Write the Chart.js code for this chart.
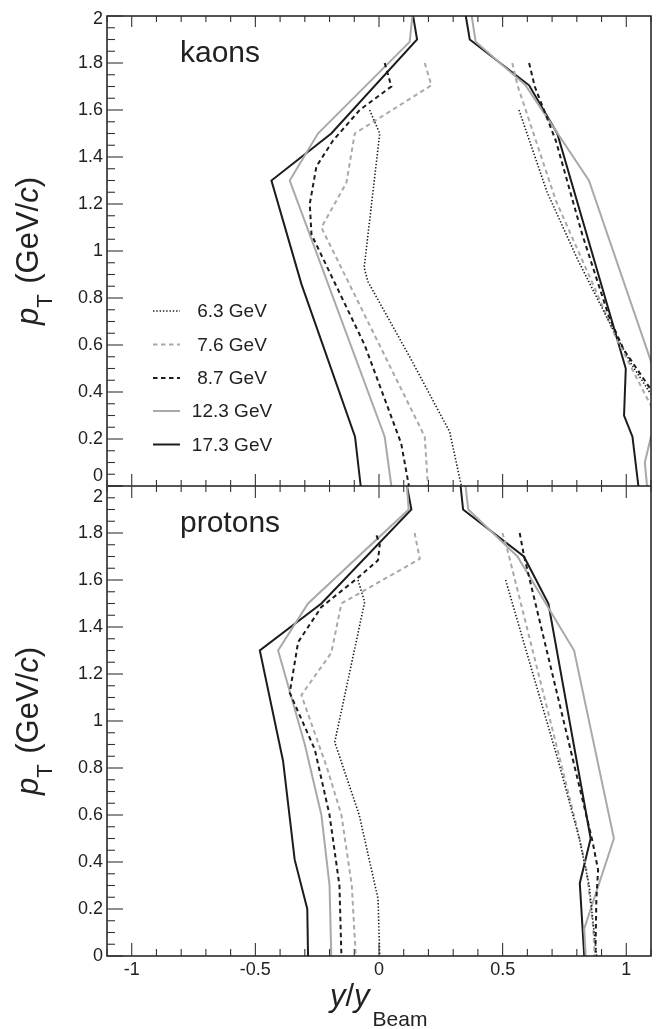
<!DOCTYPE html>
<html><head><meta charset="utf-8">
<script src="https://cdn.jsdelivr.net/npm/chart.js@4.4.0/dist/chart.umd.min.js"></script>
<style>html,body{margin:0;padding:0;background:#fff;}canvas{display:block;}</style>
</head><body>
<canvas id="c" width="656" height="1029"></canvas>
<script>
// ---------- labels ----------
const energies = ['6.3 GeV', '7.6 GeV', '8.7 GeV', '12.3 GeV', '17.3 GeV'];
const panelNames = ['kaons', 'protons'];
const xTickValues = [-1, -0.5, 0, 0.5, 1];
const xTickLabels = ['-1', '-0.5', '0', '0.5', '1'];
const yTickValues = [0, 0.2, 0.4, 0.6, 0.8, 1, 1.2, 1.4, 1.6, 1.8, 2];
const yTickLabels = ['0', '0.2', '0.4', '0.6', '0.8', '1', '1.2', '1.4', '1.6', '1.8', '2'];

// ---------- data: [y/yBeam, pT] ----------
// kaons
const kaons63L = [[-0.038,1.60],[0.003,1.50],[-0.06,0.93],[-0.045,0.87],[0.124,0.55],[0.286,0.23],[0.333,0]];
const kaons63R = [[0.566,1.60],[0.68,1.25],[0.805,0.96],[0.93,0.70],[1.02,0.52],[1.10,0.39],[1.18,0.25]];
const kaons76L = [[0.185,1.80],[0.212,1.705],[-0.098,1.50],[-0.132,1.29],[-0.233,1.10],[0.185,0.21],[0.198,0]];
const kaons76R = [[0.539,1.80],[0.560,1.705],[0.715,1.215],[0.876,0.833],[0.957,0.634],[1.099,0.343],[1.16,0.2]];
const kaons87L = [[0.023,1.80],[0.050,1.70],[-0.078,1.60],[-0.186,1.47],[-0.253,1.36],[-0.28,1.20],[-0.273,1.07],[-0.058,0.6],[0.09,0.18],[0.121,0]];
const kaons87R = [[0.607,1.80],[0.63,1.70],[0.715,1.47],[0.822,1.07],[0.93,0.72],[0.99,0.58],[1.10,0.41],[1.2,0.28]];
const kaons123L = [[0.135,2.0],[0.124,1.89],[-0.247,1.50],[-0.361,1.30],[0.023,0.21],[0.050,0]];
const kaons123R = [[0.375,2.0],[0.391,1.89],[0.593,1.705],[0.849,1.30],[1.11,0.50],[1.15,0.33],[1.10,0.21],[1.075,0.10],[1.084,0]];
const kaons173L = [[0.138,2.0],[0.154,1.90],[-0.193,1.50],[-0.435,1.30],[-0.314,0.86],[-0.097,0.21],[-0.074,0]];
const kaons173R = [[0.351,2.0],[0.367,1.90],[0.607,1.705],[0.721,1.50],[0.998,0.50],[0.991,0.30],[1.025,0.21],[1.049,0]];
// protons
const protons63L = [[-0.085,1.60],[-0.058,1.506],[-0.179,0.91],[-0.08,0.6],[-0.004,0.244],[0.003,0]];
const protons63R = [[0.512,1.60],[0.724,0.834],[0.81,0.5],[0.85,0.3],[0.88,0]];
const protons76L = [[0.144,1.80],[0.165,1.69],[-0.152,1.50],[-0.193,1.29],[-0.314,1.11],[-0.21,0.8],[-0.152,0.6],[-0.11,0.3],[-0.094,0]];
const protons76R = [[0.499,1.80],[0.519,1.73],[0.80,0.55],[0.839,0.366],[0.866,0.125],[0.872,0]];
const protons87L = [[-0.01,1.79],[0.003,1.75],[-0.004,1.684],[-0.091,1.605],[-0.233,1.485],[-0.327,1.336],[-0.361,1.12],[-0.26,0.88],[-0.2,0.6],[-0.16,0.3],[-0.152,0]];
const protons87R = [[0.569,1.80],[0.586,1.705],[0.863,0.49],[0.886,0.366],[0.879,0.24],[0.875,0]];
const protons123L = [[0.113,2.0],[0.12,1.9],[-0.287,1.5],[-0.408,1.3],[-0.30,0.9],[-0.233,0.6],[-0.2,0.3],[-0.193,0]];
const protons123R = [[0.35,2.0],[0.361,1.90],[0.56,1.70],[0.789,1.30],[0.95,0.50],[0.83,0.116],[0.836,0]];
const protons173L = [[0.113,2.0],[0.131,1.90],[-0.233,1.50],[-0.482,1.30],[-0.388,0.83],[-0.341,0.41],[-0.29,0.2],[-0.287,0]];
const protons173R = [[0.33,2.0],[0.340,1.90],[0.586,1.70],[0.685,1.50],[0.856,0.50],[0.812,0.31],[0.83,0]];

const kaonSeries = [[kaons63L,kaons63R],[kaons76L,kaons76R],[kaons87L,kaons87R],[kaons123L,kaons123R],[kaons173L,kaons173R]];
const protonSeries = [[protons63L,protons63R],[protons76L,protons76R],[protons87L,protons87R],[protons123L,protons123R],[protons173L,protons173R]];

// ---------- styles ----------
const BLACK = '#1c1c1c', GRAY = '#a9a9a9';
const styles = [
  {color: BLACK, dash: [1.4, 1.9], width: 1.6},
  {color: GRAY,  dash: [4.5, 3.5], width: 2},
  {color: BLACK, dash: [4.5, 3.5], width: 2},
  {color: GRAY,  dash: [], width: 2},
  {color: BLACK, dash: [], width: 2}
];
const FONT = '"Liberation Sans", Arial, Helvetica, sans-serif';

const datasets = [];
[[kaonSeries, 'yTop'], [protonSeries, 'yBot']].forEach(([series, axis]) => {
  series.forEach((branches, i) => {
    branches.forEach(br => {
      datasets.push({
        data: br.map(p => ({x: p[0], y: p[1]})),
        yAxisID: axis, xAxisID: 'x',
        borderColor: styles[i].color, borderWidth: styles[i].width,
        borderDash: styles[i].dash, borderCapStyle: 'butt', borderJoinStyle: 'miter',
        pointRadius: 0, fill: false, tension: 0
      });
    });
  });
});

function drawRich(ctx, parts, x, y) {
  let cx = x;
  parts.forEach(p => {
    ctx.font = p.font;
    ctx.fillText(p.t, cx, y + (p.dy || 0));
    cx += ctx.measureText(p.t).width + (p.gap || 0);
  });
}
function richWidth(ctx, parts) {
  let w = 0;
  parts.forEach(p => { ctx.font = p.font; w += ctx.measureText(p.t).width + (p.gap || 0); });
  return w;
}

const framePlugin = {
  id: 'rootFrame',
  afterDraw(chart) {
    const ctx = chart.ctx, a = chart.chartArea;
    const xs = chart.scales.x, yt = chart.scales.yTop, yb = chart.scales.yBot;
    const mid = yt.getPixelForValue(0);
    ctx.save();
    // frame
    ctx.strokeStyle = BLACK; ctx.lineWidth = 1.5; ctx.setLineDash([]);
    ctx.strokeRect(a.left, a.top, a.right - a.left, a.bottom - a.top);
    ctx.beginPath(); ctx.moveTo(a.left, mid); ctx.lineTo(a.right, mid); ctx.stroke();
    // x ticks
    ctx.lineWidth = 1.1; ctx.strokeStyle = '#333';
    for (let i = -11; i <= 11; i++) {
      const px = xs.getPixelForValue(i / 10);
      const major = i % 5 === 0;
      ctx.beginPath();
      ctx.moveTo(px, a.top); ctx.lineTo(px, a.top + (major ? 11 : 6));
      ctx.moveTo(px, mid - (major ? 12 : 6)); ctx.lineTo(px, mid + (major ? 12 : 6));
      ctx.moveTo(px, a.bottom); ctx.lineTo(px, a.bottom - (major ? 13 : 7));
      ctx.stroke();
    }
    // y ticks
    [yt, yb].forEach(sc => {
      for (let i = 0; i <= 40; i++) {
        const py = sc.getPixelForValue(i * 0.05);
        const major = i % 4 === 0;
        ctx.beginPath(); ctx.moveTo(a.left, py); ctx.lineTo(a.left + (major ? 16 : 8), py); ctx.stroke();
      }
    });
    // y tick labels
    ctx.fillStyle = '#222';
    ctx.font = '18px ' + FONT; ctx.textAlign = 'right'; ctx.textBaseline = 'middle';
    yTickValues.forEach((v, k) => {
      let py = yt.getPixelForValue(v);
      if (k === 0) py -= 10;
      if (k === yTickValues.length - 1) py += 3;
      ctx.fillText(yTickLabels[k], a.left - 4, py);
      let pb = yb.getPixelForValue(v);
      if (k === yTickValues.length - 1) pb += 11;
      ctx.fillText(yTickLabels[k], a.left - 4, pb);
    });
    // x tick labels
    ctx.textAlign = 'center';
    xTickValues.forEach((v, k) => {
      ctx.fillText(xTickLabels[k], xs.getPixelForValue(v), a.bottom + 14);
    });
    // panel names
    ctx.textAlign = 'left'; ctx.textBaseline = 'alphabetic';
    ctx.font = '30px ' + FONT;
    ctx.fillText(panelNames[0], 180, 62);
    ctx.fillText(panelNames[1], 180, 532);
    // legend
    const rows = [311, 344.5, 378, 411, 444.5];
    energies.forEach((lab, i) => {
      const s = styles[i];
      ctx.strokeStyle = s.color; ctx.lineWidth = s.width; ctx.setLineDash(s.dash);
      ctx.beginPath(); ctx.moveTo(153, rows[i]); ctx.lineTo(180, rows[i]); ctx.stroke();
      ctx.setLineDash([]);
      ctx.fillStyle = '#222'; ctx.font = '19px ' + FONT;
      ctx.textAlign = 'center'; ctx.textBaseline = 'middle';
      ctx.fillText(lab, 232, rows[i] + 1);
    });
    // y axis titles
    ctx.fillStyle = '#222'; ctx.textAlign = 'left'; ctx.textBaseline = 'alphabetic';
    const yParts = [
      {t: 'p', font: 'italic 31px ' + FONT},
      {t: 'T', font: '22px ' + FONT, dy: 14, gap: 2},
      {t: ' (GeV/', font: '31px ' + FONT},
      {t: 'c', font: 'italic 31px ' + FONT},
      {t: ')', font: '31px ' + FONT}
    ];
    const yw = richWidth(ctx, yParts);
    [(yt.getPixelForValue(0) + yt.getPixelForValue(2)) / 2, (yb.getPixelForValue(0) + yb.getPixelForValue(2)) / 2].forEach(cy => {
      ctx.save();
      ctx.translate(38, cy); ctx.rotate(-Math.PI / 2);
      drawRich(ctx, yParts, -yw / 2, 0);
      ctx.restore();
    });
    // x axis title
    const xParts = [
      {t: 'y', font: 'italic 31px ' + FONT},
      {t: '/', font: '31px ' + FONT},
      {t: 'y', font: 'italic 31px ' + FONT, gap: 3},
      {t: 'Beam', font: '21px ' + FONT, dy: 20}
    ];
    drawRich(ctx, xParts, 330, 1006);
    ctx.restore();
  }
};

new Chart(document.getElementById('c').getContext('2d'), {
  type: 'line',
  data: {datasets},
  options: {
    responsive: false, animation: false,
    layout: {padding: {left: 107, right: 5, top: 16, bottom: 73}},
    plugins: {legend: {display: false}, tooltip: {enabled: false}},
    scales: {
      x: {type: 'linear', min: -1.1, max: 1.1, display: false},
      yTop: {type: 'linear', min: -2, max: 2, display: false},
      yBot: {type: 'linear', min: 0, max: 4, display: false}
    }
  },
  plugins: [framePlugin]
});
</script>
</body></html>
